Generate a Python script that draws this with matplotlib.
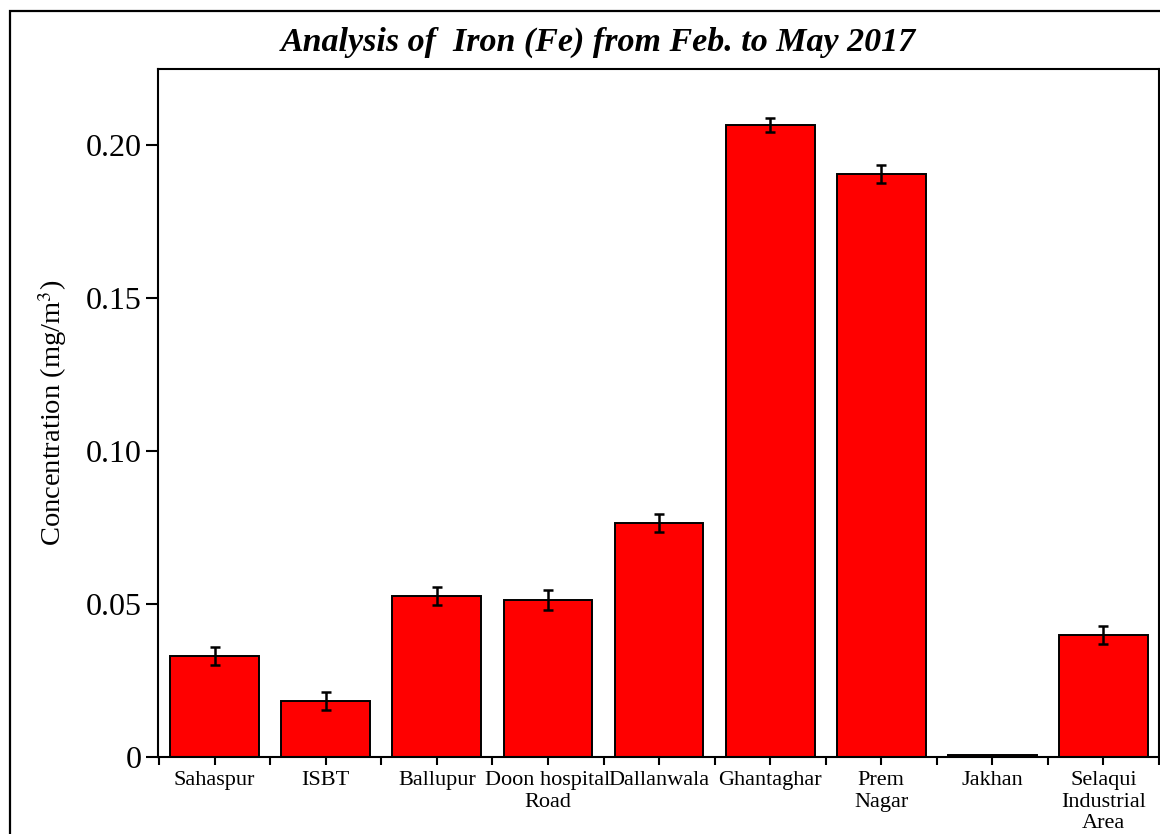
import matplotlib
matplotlib.use("Agg")
import matplotlib.pyplot as plt
from matplotlib.ticker import FixedLocator
from matplotlib.patches import Rectangle

sites = ["Sahaspur", "ISBT", "Ballupur", "Doon hospital\nRoad", "Dallanwala",
         "Ghantaghar", "Prem\nNagar", "Jakhan", "Selaqui\nIndustrial\nArea"]
concentration = [0.033, 0.0183, 0.0526, 0.0513, 0.0765, 0.2065, 0.1905, 0.0008, 0.0399]
errors = [0.003, 0.003, 0.003, 0.0033, 0.003, 0.0023, 0.003, 0.0, 0.0028]
yticks = [0, 0.05, 0.10, 0.15, 0.20]
ytick_labels = ["0", "0.05", "0.10", "0.15", "0.20"]

plt.rcParams['font.family'] = ['Liberation Serif', 'DejaVu Serif']
plt.rcParams['mathtext.fontset'] = 'stix'

W, H = 1160, 834
fig = plt.figure(figsize=(W / 100, H / 100), dpi=100)
ax = fig.add_axes([158 / W, 1 - 757 / H, (1159 - 158) / W, (757 - 69) / H])

x = list(range(1, len(sites) + 1))
ax.bar(x, concentration, width=0.8, color="#ff0000", edgecolor="black", linewidth=1.4,
       zorder=2)
ax.errorbar([xi for xi, e in zip(x, errors) if e > 0],
            [c for c, e in zip(concentration, errors) if e > 0],
            yerr=[e for e in errors if e > 0], fmt="none", ecolor="black",
            elinewidth=1.8, capsize=3.8, capthick=1.8, zorder=3)

ax.set_xlim(0.49, 9.5)
ax.set_ylim(0, 0.2249)
ax.set_xticks(x)
ax.set_xticklabels(sites, fontsize=16, linespacing=1.2)
ax.xaxis.set_minor_locator(FixedLocator([i + 0.5 for i in range(0, 10)]))
ax.set_yticks(yticks)
ax.set_yticklabels(ytick_labels, fontsize=23)

for s in ax.spines.values():
    s.set_linewidth(1.5)
ax.tick_params(axis='x', which='both', direction='out', length=6, width=1.5, pad=4)
ax.tick_params(axis='y', which='major', direction='out', length=9, width=1.5, pad=3)

ax.set_ylabel("Concentration (mg/m$^3$)", fontsize=20.5, labelpad=12)

fig.text(598 / W, 1 - 42 / H, "Analysis of  Iron (Fe) from Feb. to May 2017",
         ha="center", va="center", fontsize=24.5, fontweight="bold", fontstyle="italic")

fig.patches.append(Rectangle((10 / W, -0.1), 1.2, (1 - 11 / H) + 0.1,
                             transform=fig.transFigure, fill=False,
                             edgecolor="black", linewidth=1.6, zorder=0))

fig.savefig("out.png", dpi=100)
